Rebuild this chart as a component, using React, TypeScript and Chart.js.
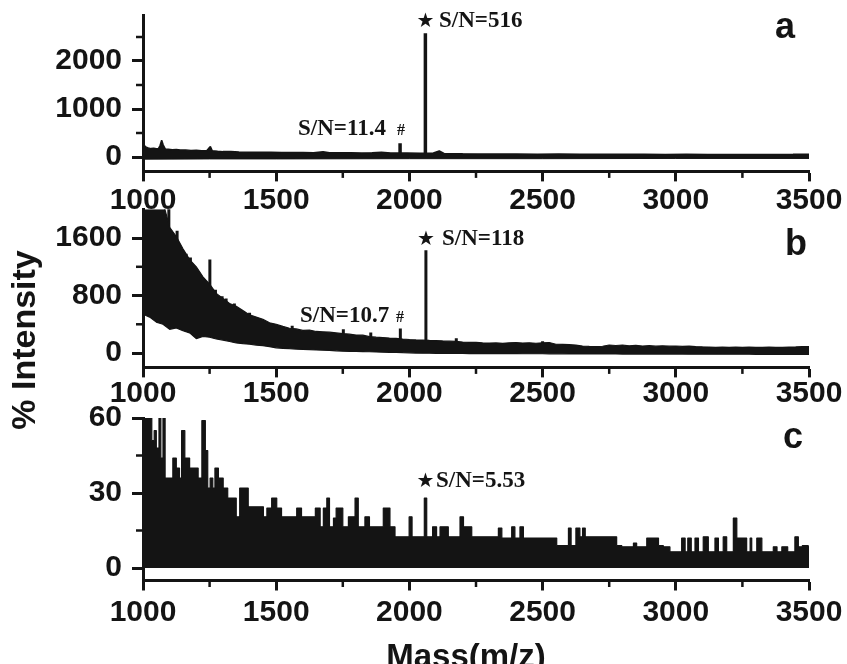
import React, { useEffect, useRef } from "react";
import { Chart, registerables } from "chart.js";

Chart.register(...registerables);

const INK = "#141414";
const W = 847;
const H = 664;
const PLOT_LEFT = 143;
const PLOT_RIGHT = 809;
const X_AXIS_H = 50;
const SANS = '"Liberation Sans", Arial, sans-serif';
const SERIF = '"Liberation Serif", "Times New Roman", serif';
const STAR_FONT = '"DejaVu Sans", sans-serif';

// ---------- shared x axis ----------
const xMin = 1000;
const xMax = 3500;
const xMajorTicks = [1000, 1500, 2000, 2500, 3000, 3500];
const xMinorTicks = [1250, 1750, 2250, 2750, 3250];

// ---------- panel a ----------
const aMz = [1000, 1006, 1012, 1020, 1030, 1040, 1050, 1058, 1064, 1070, 1076, 1084, 1095, 1110, 1125, 1140, 1160, 1180, 1200, 1220, 1240, 1248, 1253, 1260, 1280, 1300, 1330, 1360, 1400, 1440, 1480, 1520, 1560, 1600, 1640, 1676, 1700, 1740, 1780, 1820, 1860, 1895, 1930, 1990, 2040, 2090, 2112, 2130, 2160, 2200, 2260, 2320, 2400, 2480, 2560, 2640, 2720, 2800, 2880, 2960, 3040, 3120, 3200, 3280, 3360, 3440, 3500];
const aUpper = [270, 230, 205, 190, 175, 185, 170, 175, 240, 350, 250, 165, 160, 150, 155, 145, 148, 138, 140, 132, 135, 190, 215, 130, 120, 112, 115, 104, 100, 98, 100, 95, 92, 95, 90, 110, 90, 88, 90, 85, 86, 98, 84, 82, 80, 82, 128, 75, 70, 66, 64, 62, 60, 58, 60, 56, 57, 55, 56, 53, 55, 52, 54, 52, 53, 55, 58];
const aLowerMz = [1000, 1250, 1500, 2000, 2500, 3000, 3500];
const aLower = [-45, -40, -40, -35, -35, -30, -30];
const aSpikeMz = [1965, 2060];
const aSpikeBase = [0, 0];
const aSpikeVal = [285, 2580];
const aYTicks = [0, 1000, 2000];
const aYMinor = [500, 1500, 2500];

// ---------- panel b ----------
const bMzStart = 1000;
const bMzStep = 25;
const bUpper = [
  2300, 2250, 2200, 2100, 1750, 1620, 1450, 1300, 1200, 1060,
  960, 830, 760, 690, 650, 590, 530, 500, 470, 420,
  400, 370, 345, 335, 315, 320, 300, 295, 290, 280,
  270, 262, 250, 248, 228, 220, 215, 208, 205, 195,
  188, 182, 180, 175, 172, 168, 165, 162, 152, 148,
  150, 140, 138, 140, 135, 142, 146, 138, 142, 136,
  142, 146, 122, 120, 116, 110, 98, 92, 90, 94,
  112, 105, 112, 100, 108, 98, 102, 95, 100, 95,
  98, 92, 96, 90, 86, 83, 79, 82, 78, 81,
  78, 83, 80, 78, 81, 78, 80, 83, 85, 88,
  88,
];
const bLower = [
  540, 500, 430, 400, 330, 350, 310, 280, 200, 230,
  220, 195, 180, 160, 140, 130, 122, 110, 102, 88,
  72, 66, 60, 55, 50, 46, 42, 40, 36, 30,
  26, 24, 22, 20, 18, 15, 12, 10, 8, 5,
  3, 0, -2, -3, -4, -5, -5, -6, -6, -7,
  -7, -8, -8, -8, -9, -9, -9, -10, -10, -10,
  -10, -11, -11, -11, -12, -12, -12, -12, -13, -13,
  -13, -13, -14, -14, -14, -14, -15, -15, -15, -15,
  -15, -15, -16, -16, -16, -16, -16, -17, -17, -17,
  -17, -17, -18, -18, -18, -18, -18, -19, -19, -19,
  -20,
];
const bSpikeMz = [1097, 1128, 1162, 1178, 1251, 1272, 1297, 1312, 1343, 1400, 1560, 1752, 1855, 1966, 2062, 2176, 2500];
const bSpikeBase = [1000, 900, 800, 700, 600, 500, 450, 400, 350, 300, 200, 150, 120, 100, 90, 80, 60];
const bSpikeVal = [2050, 1700, 1380, 1330, 1300, 880, 790, 760, 690, 560, 380, 330, 285, 340, 1430, 205, 165];
const bYTicks = [0, 800, 1600];
const bYMinor = [400, 1200];

// ---------- panel c ----------
const cMz = [1000, 1033, 1042, 1050, 1060, 1067, 1075, 1083, 1112, 1125, 1137, 1145, 1157, 1175, 1207, 1221, 1234, 1243, 1252, 1262, 1270, 1283, 1301, 1318, 1350, 1363, 1395, 1452, 1465, 1483, 1502, 1520, 1577, 1595, 1647, 1665, 1677, 1690, 1700, 1715, 1725, 1750, 1771, 1796, 1808, 1833, 1850, 1902, 1927, 1946, 1999, 2010, 2056, 2065, 2087, 2102, 2115, 2146, 2190, 2203, 2234, 2334, 2347, 2384, 2396, 2415, 2428, 2553, 2597, 2607, 2625, 2640, 2650, 2660, 2778, 2797, 2841, 2853, 2891, 2935, 2953, 2978, 3022, 3035, 3045, 3058, 3072, 3085, 3103, 3122, 3147, 3160, 3178, 3191, 3216, 3229, 3266, 3279, 3285, 3304, 3323, 3366, 3380, 3398, 3420, 3447, 3460, 3475, 3497, 3500];
const cVal = [60, 51, 55, 48, 61, 44, 61, 36, 44, 40, 36, 55, 44, 40, 36, 59, 47, 32, 36, 32, 40, 36, 32, 28, 20.5, 32, 24.5, 20.5, 24, 28, 24, 20.5, 24, 20.5, 24, 16.5, 24, 28, 16.5, 20, 24, 16.5, 20.5, 28, 16.5, 20.5, 16.5, 24, 16.5, 12.5, 20.5, 12.5, 28, 12.5, 16.5, 12.5, 16.5, 12.5, 20.5, 16.5, 12.5, 16, 12, 16.5, 12, 16.5, 12, 9, 16, 9, 16, 12.5, 16, 12.5, 9, 8.5, 10, 8.5, 12, 9, 8.5, 6.5, 12, 6.5, 12, 6.5, 12, 6.5, 12.5, 6.5, 12, 6.5, 12.5, 6.5, 20, 12, 6.5, 12, 6.5, 12, 6.5, 8.5, 6.5, 8.5, 6.5, 12.5, 8.5, 9, 8.5, 8.5];
const cYTicks = [0, 30, 60];
const cYMinor = [15, 45];

type Note = {
  text: string;
  x?: number;
  mz?: number;
  y: number;
  size: number;
  family: string;
  weight?: string;
  align?: CanvasTextAlign;
  rotate?: boolean;
};

const tickFont = { family: SANS, size: 30, weight: "bold" as const, lineHeight: 1 };

function spikePoints(mz: number[], base: number[], val: number[]) {
  const pts: { x: number; y: number | null }[] = [];
  mz.forEach((m, i) => {
    pts.push({ x: m, y: base[i] }, { x: m, y: val[i] }, { x: m, y: null });
  });
  return pts;
}

function pairPoints(mz: number[], val: number[]) {
  return mz.map((m, i) => ({ x: m, y: val[i] }));
}

function gridPoints(start: number, step: number, val: number[]) {
  return val.map((v, i) => ({ x: start + i * step, y: v }));
}

const lineBase = {
  borderColor: INK,
  backgroundColor: INK,
  pointRadius: 0,
  tension: 0,
  borderJoinStyle: "bevel" as const,
};

type Panel = {
  id: string;
  top: number;
  bottom: number;
  yMin: number;
  yMax: number;
  yTicks: number[];
  yMinor: number[];
  xLabelPad: number;
  datasets: any[];
  notes: Note[];
};

const panels: Panel[] = [
  {
    id: "a",
    top: 15.4,
    bottom: 171.4,
    yMin: -300,
    yMax: 2950,
    yTicks: aYTicks,
    yMinor: aYMinor,
    xLabelPad: 4,
    datasets: [
      { ...lineBase, data: pairPoints(aMz, aUpper), borderWidth: 1.5, fill: "origin" },
      { ...lineBase, data: pairPoints(aLowerMz, aLower), borderWidth: 1, fill: "origin" },
      { ...lineBase, data: spikePoints(aSpikeMz, aSpikeBase, aSpikeVal), borderWidth: 3.5, fill: false, spanGaps: false },
    ],
    notes: [
      { text: "★", mz: 2060, y: 27, size: 20, family: STAR_FONT, weight: "normal", align: "center" },
      { text: "S/N=516", x: 439, y: 27, size: 23, family: SERIF },
      { text: "S/N=11.4", x: 298, y: 135, size: 23, family: SERIF },
      { text: "#", x: 397, y: 135, size: 16, family: SERIF },
      { text: "a", x: 775, y: 38, size: 36, family: SANS },
    ],
  },
  {
    id: "b",
    top: 209.3,
    bottom: 367.4,
    yMin: -200,
    yMax: 2000,
    yTicks: bYTicks,
    yMinor: bYMinor,
    xLabelPad: 1,
    datasets: [
      { ...lineBase, data: gridPoints(bMzStart, bMzStep, bLower), borderWidth: 1.2, fill: false },
      { ...lineBase, data: gridPoints(bMzStart, bMzStep, bUpper), borderWidth: 1.2, fill: "-1" },
      { ...lineBase, data: spikePoints(bSpikeMz, bSpikeBase, bSpikeVal), borderWidth: 3, fill: false, spanGaps: false },
    ],
    notes: [
      { text: "★", mz: 2062, y: 245, size: 20, family: STAR_FONT, weight: "normal", align: "center" },
      { text: "S/N=118", x: 442, y: 245, size: 23, family: SERIF },
      { text: "S/N=10.7", x: 300, y: 322, size: 23, family: SERIF },
      { text: "#", x: 396, y: 322, size: 16, family: SERIF },
      { text: "b", x: 785, y: 255, size: 36, family: SANS },
      { text: "% Intensity", x: 26, y: 340, size: 34, family: SANS, align: "center", rotate: true },
    ],
  },
  {
    id: "c",
    top: 418,
    bottom: 580.5,
    yMin: -5,
    yMax: 60,
    yTicks: cYTicks,
    yMinor: cYMinor,
    xLabelPad: 7,
    datasets: [
      { ...lineBase, data: pairPoints(cMz, cVal), borderWidth: 1.2, fill: "origin", stepped: "before" },
    ],
    notes: [
      { text: "★", mz: 2060, y: 487, size: 20, family: STAR_FONT, weight: "normal", align: "center" },
      { text: "S/N=5.53", x: 436, y: 487, size: 23, family: SERIF },
      { text: "c", x: 783, y: 448, size: 36, family: SANS },
      { text: "Mass(m/z)", x: 466, y: 667, size: 33, family: SANS, align: "center" },
    ],
  },
];

function decorPlugin(p: Panel) {
  return {
    id: "decor_" + p.id,
    afterDraw(chart: any) {
      const { ctx, chartArea } = chart;
      const xs = chart.scales.x;
      const ys = chart.scales.y;
      ctx.save();
      ctx.strokeStyle = INK;
      ctx.lineWidth = 2.5;
      ctx.lineCap = "butt";
      xMinorTicks.forEach((v) => {
        const px = xs.getPixelForValue(v);
        ctx.beginPath();
        ctx.moveTo(px, chartArea.bottom);
        ctx.lineTo(px, chartArea.bottom + 6.5);
        ctx.stroke();
      });
      p.yMinor.forEach((v) => {
        const py = ys.getPixelForValue(v);
        ctx.beginPath();
        ctx.moveTo(chartArea.left - 7, py);
        ctx.lineTo(chartArea.left, py);
        ctx.stroke();
      });
      ctx.fillStyle = INK;
      p.notes.forEach((n) => {
        const x = n.mz !== undefined ? xs.getPixelForValue(n.mz) : (n.x as number);
        ctx.font = `${n.weight ?? "bold"} ${n.size}px ${n.family}`;
        ctx.textAlign = n.align ?? "left";
        if (n.rotate) {
          ctx.save();
          ctx.translate(x, n.y);
          ctx.rotate(-Math.PI / 2);
          ctx.textBaseline = "middle";
          ctx.fillText(n.text, 0, 0);
          ctx.restore();
        } else {
          ctx.textBaseline = "alphabetic";
          ctx.fillText(n.text, x, n.y);
        }
      });
      ctx.restore();
    },
  };
}

function makeConfig(p: Panel): any {
  return {
    type: "line",
    data: { datasets: p.datasets },
    options: {
      responsive: false,
      animation: false,
      events: [],
      layout: {
        padding: { left: 0, right: W - PLOT_RIGHT, top: p.top, bottom: H - p.bottom - X_AXIS_H },
      },
      plugins: { legend: { display: false }, tooltip: { enabled: false }, title: { display: false } },
      scales: {
        x: {
          type: "linear",
          min: xMin,
          max: xMax,
          offset: false,
          afterBuildTicks: (s: any) => {
            s.ticks = xMajorTicks.map((v) => ({ value: v }));
          },
          afterFit: (s: any) => {
            s.height = X_AXIS_H;
            s.paddingLeft = 0;
            s.paddingRight = 0;
          },
          ticks: {
            autoSkip: false,
            maxRotation: 0,
            minRotation: 0,
            padding: p.xLabelPad,
            color: INK,
            font: tickFont,
            callback: (v: any) => String(v),
          },
          grid: { display: true, drawOnChartArea: false, drawTicks: true, tickLength: 10, tickWidth: 3, tickColor: INK },
          border: { display: true, width: 3, color: INK },
        },
        y: {
          type: "linear",
          min: p.yMin,
          max: p.yMax,
          afterBuildTicks: (s: any) => {
            s.ticks = p.yTicks.map((v) => ({ value: v }));
          },
          afterFit: (s: any) => {
            s.width = PLOT_LEFT;
            s.paddingTop = 0;
            s.paddingBottom = 0;
          },
          ticks: {
            autoSkip: false,
            padding: 10,
            color: INK,
            font: tickFont,
            callback: (v: any) => String(v),
          },
          grid: { display: true, drawOnChartArea: false, drawTicks: true, tickLength: 11, tickWidth: 3, tickColor: INK },
          border: { display: true, width: 3, color: INK },
        },
      },
    },
    plugins: [decorPlugin(p)],
  };
}

export default function App() {
  const refA = useRef<HTMLCanvasElement>(null);
  const refB = useRef<HTMLCanvasElement>(null);
  const refC = useRef<HTMLCanvasElement>(null);

  useEffect(() => {
    const refs = [refA, refB, refC];
    const charts = panels.map((p, i) => new Chart(refs[i].current as HTMLCanvasElement, makeConfig(p)));
    return () => charts.forEach((c) => c.destroy());
  }, []);

  const canvasStyle: React.CSSProperties = { position: "absolute", left: 0, top: 0, width: W, height: H };
  return (
    <div style={{ position: "fixed", left: 0, top: 0, width: W, height: H, background: "#fff", overflow: "hidden" }}>
      <canvas ref={refA} width={W} height={H} style={canvasStyle} />
      <canvas ref={refB} width={W} height={H} style={canvasStyle} />
      <canvas ref={refC} width={W} height={H} style={canvasStyle} />
    </div>
  );
}
